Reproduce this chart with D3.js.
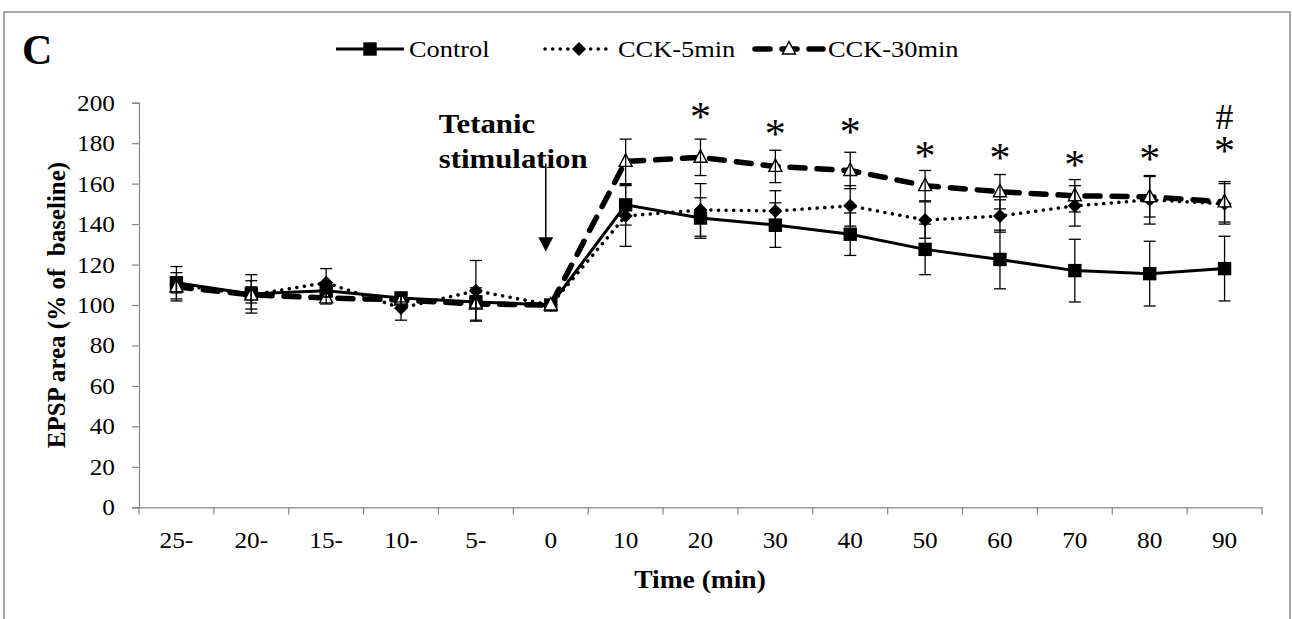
<!DOCTYPE html>
<html>
<head>
<meta charset="utf-8">
<script src="https://cdn.jsdelivr.net/npm/d3@7/dist/d3.min.js"></script>
<style>
body{margin:0;background:#fff;}
text{font-family:"Liberation Serif","Times New Roman",serif;fill:#000;}
</style>
</head>
<body>
<div id="chart"></div>
<script>
// data
var categories = ["25-","20-","15-","10-","5-","0","10","20","30","40","50","60","70","80","90"];
var control    = [111,105.5,107,103.5,101.5,100,149.5,143,139.5,135,127.5,122.5,117,115.5,118];
var controlErr = [8,9.5,3,2,3,0,10,10,11,10.5,12.5,14.5,15.5,16,16];
var cck5       = [110,105,111,98.5,107,100,144,147,146.5,149,142,144,149,152,150];
var cck5Err    = [4,4,7,6,15,0,15,13,10,10,9,8,10,12,10];
var cck30      = [109,105,103.5,102.5,100.5,100,171,173,168.5,166.5,159,156,154,153.5,151];
var cck30Err   = [7,7,3,2,8,0,11,9,8,9,7.5,8.5,8,10,10];
var yTicks = [0,20,40,60,80,100,120,140,160,180,200];
var sigCats = ["20","30","40","50","60","70","80","90"];
var sigY    = [196,187.5,188.5,176.5,175.5,172,175,179];
var hashCat = "90", hashY = 192.5;

var W = 1292, H = 619;
var SX = 1.1; // text looks a bit wider than the font in the original

var svg = d3.select("#chart").append("svg")
    .attr("width", W).attr("height", H);

// outer frame
svg.append("rect")
    .attr("x", 4).attr("y", 12).attr("width", 1286).attr("height", 700)
    .style("fill", "none").style("stroke", "#8c8c8c").style("stroke-width", 1.5);

var x = d3.scaleBand().domain(categories).range([139, 1262]).padding(0);
var y = d3.scaleLinear().domain([0, 200]).range([507.3, 102.7]);
var bw = x.bandwidth();
var cx = function(c){ return x(c) + bw/2; };

// stretched text helper
function label(parent, tx, ty, str, size, weight, anchor, sx){
    var g = parent.append("g")
        .attr("transform", "translate(" + tx + "," + ty + ") scale(" + (sx || SX) + ",1)");
    return g.append("text")
        .attr("text-anchor", anchor || "start")
        .style("font-size", size + "px")
        .style("font-weight", weight || "normal")
        .style("white-space", "pre")
        .text(str);
}

// y axis
var yAxis = svg.append("g")
    .attr("transform", "translate(139,0)")
    .call(d3.axisLeft(y).tickValues(yTicks).tickSize(7).tickPadding(0).tickFormat(function(){ return ""; }));
yAxis.select(".domain").style("stroke", "#868686").style("stroke-width", 1.2);
yAxis.selectAll(".tick line").style("stroke", "#868686").style("stroke-width", 1.2);
yTicks.forEach(function(v){
    label(svg, 115, y(v) + 8, String(v), 23, "normal", "end");
});

// x axis: line + boundary ticks + centred labels
var xAxis = svg.append("g")
    .attr("transform", "translate(0,507.3)")
    .call(d3.axisBottom(x).tickSize(0).tickFormat(function(){ return ""; }));
xAxis.select(".domain").style("stroke", "#868686").style("stroke-width", 1.2);
var bounds = categories.map(function(c){ return x(c); }).concat([x.range()[1]]);
svg.append("g").selectAll("line").data(bounds).enter().append("line")
    .attr("x1", function(d){ return d; }).attr("x2", function(d){ return d; })
    .attr("y1", 507.3).attr("y2", 514.5)
    .style("stroke", "#868686").style("stroke-width", 1.2);
categories.forEach(function(c){
    label(svg, cx(c), 548, c, 23, "normal", "middle");
});

// axis titles
label(svg, 700, 588, "Time (min)", 25, "bold", "middle");
svg.append("text")
    .attr("transform", "translate(65," + ((y(0) + y(200))/2) + ") rotate(-90)")
    .attr("text-anchor", "middle")
    .style("font-size", "25px").style("font-weight", "bold").style("white-space", "pre")
    .text("EPSP area (% of  baseline)");

// panel letter
label(svg, 22, 64, "C", 42, "bold", "start", 1.0);

// series
var series = [
    {name:"Control",   values:control, err:controlErr, marker:"square",   dash:null,     width:3,   cap:"butt"},
    {name:"CCK-5min",  values:cck5,    err:cck5Err,    marker:"diamond",  dash:"0.1,7.5",width:3.5, cap:"round"},
    {name:"CCK-30min", values:cck30,   err:cck30Err,   marker:"triangle", dash:"15,12",  width:5.5, cap:"round"}
];

function marker(sel, type){
    if (type === "square") {
        sel.append("rect").attr("x", -6.7).attr("y", -6.7).attr("width", 13.4).attr("height", 13.4)
            .style("fill", "#000");
    } else if (type === "diamond") {
        sel.append("path").attr("d", "M0,-7L7,0L0,7L-7,0Z").style("fill", "#000");
    } else {
        sel.append("path").attr("d", "M0,-7.5L6.5,5L-6.5,5Z")
            .style("fill", "#fff").style("stroke", "#000").style("stroke-width", 1.4);
    }
}

var line = d3.line()
    .x(function(d){ return cx(d.cat); })
    .y(function(d){ return y(d.v); });

series.forEach(function(s){
    var pts = categories.map(function(c, i){ return {cat:c, v:s.values[i], e:s.err[i]}; });
    var g = svg.append("g");
    g.append("path").datum(pts).attr("d", line)
        .style("fill", "none").style("stroke", "#000")
        .style("stroke-width", s.width)
        .style("stroke-linecap", s.cap)
        .style("stroke-dasharray", s.dash);
    g.selectAll(".pt").data(pts).enter().append("g")
        .attr("transform", function(d){ return "translate(" + cx(d.cat) + "," + y(d.v) + ")"; })
        .each(function(){ marker(d3.select(this), s.marker); });
    s.pts = pts;
});

// error bars on top
series.forEach(function(s){
    var eb = svg.append("g").style("stroke", "#000").style("stroke-width", 1.3);
    s.pts.filter(function(d){ return d.e > 0; }).forEach(function(d){
        var xc = cx(d.cat);
        eb.append("line").attr("x1", xc).attr("x2", xc).attr("y1", y(d.v + d.e)).attr("y2", y(d.v - d.e));
        eb.append("line").attr("x1", xc - 6).attr("x2", xc + 6).attr("y1", y(d.v + d.e)).attr("y2", y(d.v + d.e));
        eb.append("line").attr("x1", xc - 6).attr("x2", xc + 6).attr("y1", y(d.v - d.e)).attr("y2", y(d.v - d.e));
    });
});

// significance marks (the # and * at the last point share one text)
sigCats.forEach(function(c, i){
    var t = svg.append("text").attr("text-anchor", "middle").style("font-size", "42px");
    if (c === hashCat) {
        t.append("tspan").attr("x", cx(c)).attr("y", y(hashY)).attr("dy", "0.3em")
            .style("font-size", "36px").text("#");
    }
    t.append("tspan").attr("x", cx(c)).attr("y", y(sigY[i])).attr("dy", "0.47em").text("*");
});

// tetanic stimulation arrow
var ax = cx("0") - 5;
svg.append("line").attr("x1", ax).attr("x2", ax).attr("y1", y(170)).attr("y2", y(133))
    .style("stroke", "#000").style("stroke-width", 1.5);
svg.append("path")
    .attr("d", "M" + (ax - 7.5) + "," + y(133.5) + "L" + (ax + 7.5) + "," + y(133.5) + "L" + ax + "," + y(126.5) + "Z")
    .style("fill", "#000");
label(svg, ax - 107, 133, "Tetanic", 28, "bold");
label(svg, ax - 107, 168, "stimulation", 28, "bold");

// legend
var legendX = [336, 545, 755];
series.forEach(function(s, i){
    var lx = legendX[i], ly = 49;
    svg.append("line").attr("x1", lx).attr("x2", lx + 68).attr("y1", ly).attr("y2", ly)
        .style("stroke", "#000").style("stroke-width", s.width)
        .style("stroke-linecap", s.cap).style("stroke-dasharray", s.dash);
    var m = svg.append("g").attr("transform", "translate(" + (lx + 34) + "," + ly + ")");
    marker(m, s.marker);
    label(svg, lx + 73, 57, s.name, 24, "normal");
});
</script>
</body>
</html>
